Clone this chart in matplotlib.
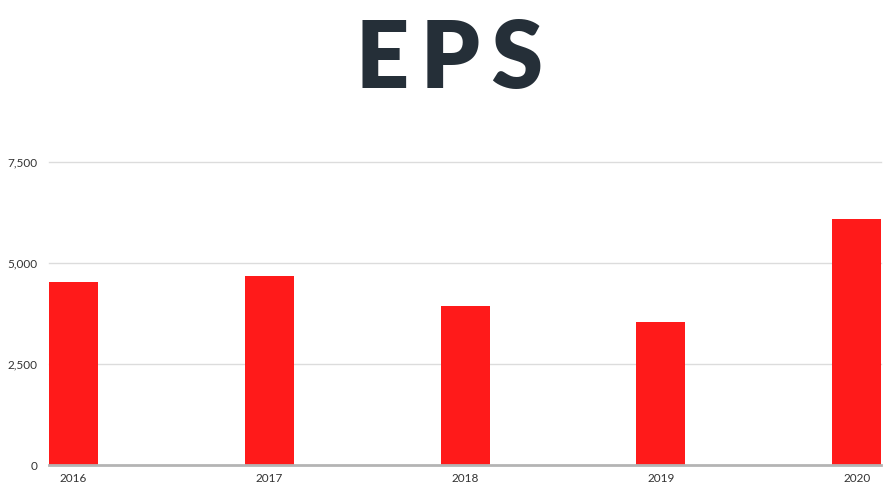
import matplotlib
matplotlib.use("Agg")
import matplotlib.pyplot as plt

years = ["2016", "2017", "2018", "2019", "2020"]
eps = [4530, 4680, 3940, 3540, 6090]
yticks = [0, 2500, 5000, 7500]
ytick_labels = ["0", "2,500", "5,000", "7,500"]

plt.rcParams['font.family'] = ['Lato', 'DejaVu Sans']

fig = plt.figure(figsize=(8.9, 4.88), dpi=100)
ax = fig.add_axes([0.055, 0.047, 0.935, 0.621])

x = list(range(len(years)))
ax.bar(x, eps, width=0.25, color="#ff1a1a", zorder=3)

ax.set_xlim(-0.125, len(years) - 1 + 0.125)
ax.set_ylim(0, 7500)

ax.set_yticks(yticks)
ax.set_yticklabels(ytick_labels)
ax.set_xticks(x)
ax.set_xticklabels(years)
ax.tick_params(axis="both", length=0, labelsize=8.5, colors="#333333")
ax.tick_params(axis="y", pad=8)
ax.tick_params(axis="x", pad=6)

for v in yticks[1:]:
    ax.axhline(v, color="#dcdcdc", linewidth=1, zorder=1, clip_on=False)

for s in ["top", "right", "left"]:
    ax.spines[s].set_visible(False)
ax.spines["bottom"].set_color("#b4b4b4")
ax.spines["bottom"].set_linewidth(2)
ax.spines["bottom"].set_zorder(4)

# title, letter spaced with thin spaces
fig.text(0.505, 0.875, "E\u2009P\u2009S", ha="center", va="center", fontsize=67,
         fontweight="heavy", color="#252f38")

fig.savefig("out.png", dpi=100)
